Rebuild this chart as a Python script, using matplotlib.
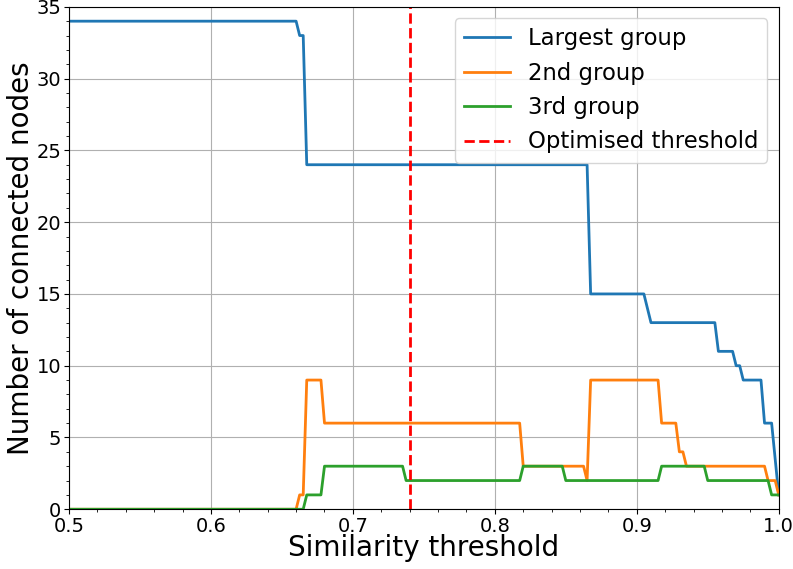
import matplotlib
matplotlib.use("Agg")
import matplotlib.pyplot as plt
from matplotlib.ticker import AutoMinorLocator

# vertices (threshold, node count)
largest_x = [0.5, 0.66, 0.6625, 0.665, 0.6675, 0.865, 0.8675, 0.905, 0.91, 0.955, 0.9575,
             0.9675, 0.97, 0.9725, 0.975, 0.9875, 0.99, 0.995, 1.0]
largest_y = [34, 34, 33, 33, 24, 24, 15, 15, 13, 13, 11, 11, 10, 10, 9, 9, 6, 6, 1]

second_x = [0.5, 0.66, 0.6625, 0.665, 0.6675, 0.6775, 0.68, 0.8175, 0.82, 0.8625, 0.865,
            0.8675, 0.915, 0.9175, 0.9275, 0.93, 0.9325, 0.935, 0.99, 0.9925, 0.9975, 1.0]
second_y = [0, 0, 1, 1, 9, 9, 6, 6, 3, 3, 2, 9, 9, 6, 6, 4, 4, 3, 3, 2, 2, 1]

third_x = [0.5, 0.665, 0.6675, 0.6775, 0.68, 0.735, 0.7375, 0.8175, 0.82, 0.8475, 0.85,
           0.915, 0.9175, 0.9475, 0.95, 0.9925, 0.995, 1.0]
third_y = [0, 0, 1, 1, 3, 3, 2, 2, 3, 3, 2, 2, 3, 3, 2, 2, 1, 1]

opt_threshold = 0.74

fig, ax = plt.subplots(figsize=(7.93, 5.69), dpi=100)
fig.subplots_adjust(left=0.087, right=0.982, top=0.988, bottom=0.105)

ax.plot(largest_x, largest_y, color="#1f77b4", lw=2, label="Largest group")
ax.plot(second_x, second_y, color="#ff7f0e", lw=2, label="2nd group")
ax.plot(third_x, third_y, color="#2ca02c", lw=2, label="3rd group")
ax.axvline(opt_threshold, color="red", ls="--", lw=2, label="Optimised threshold")

ax.set_xlim(0.5, 1.0)
ax.set_ylim(0, 35)
ax.xaxis.set_minor_locator(AutoMinorLocator(5))
ax.yaxis.set_minor_locator(AutoMinorLocator(5))
ax.tick_params(axis="both", which="major", labelsize=14, pad=2)
ax.grid(True, which="major", color="#b0b0b0", lw=0.8)

ax.set_xlabel("Similarity threshold", fontsize=20)
ax.set_ylabel("Number of connected nodes", fontsize=20)
ax.xaxis.set_label_coords(0.5, -0.05)
ax.yaxis.set_label_coords(-0.048, 0.5)
ax.legend(loc="upper right", fontsize=16.4)

fig.savefig("out.png", dpi=100)
